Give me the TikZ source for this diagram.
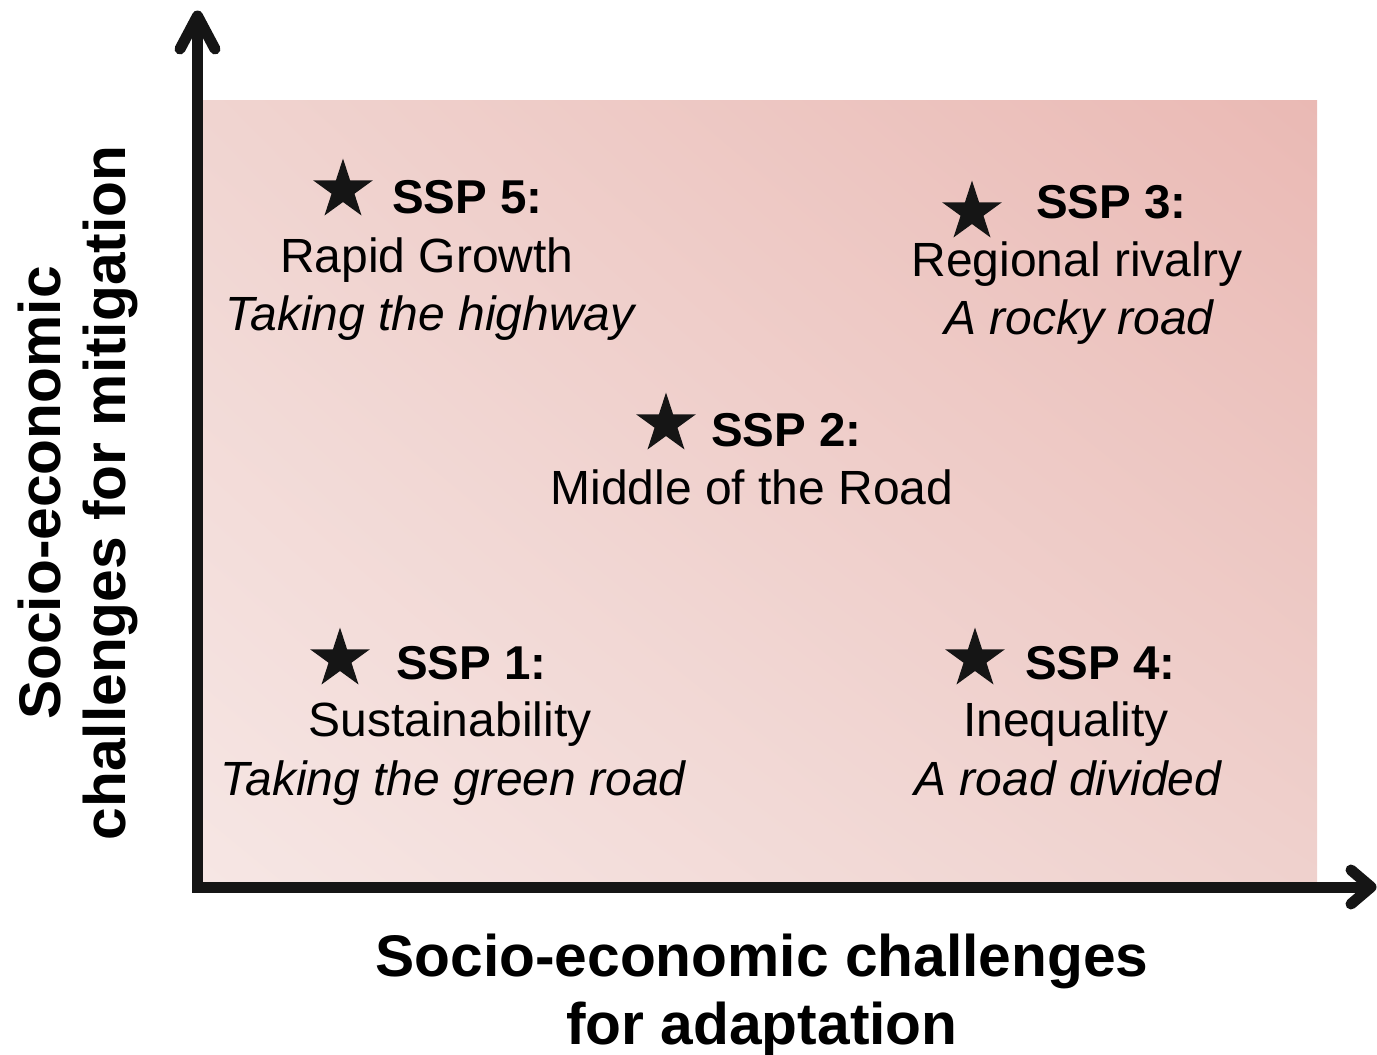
\documentclass[tikz,border=0pt]{standalone}
\usepackage{fontspec}
\setmainfont{Liberation Sans}
\usetikzlibrary{shapes.geometric,shadings}
\definecolor{axisc}{HTML}{151515}
\definecolor{bgLL}{HTML}{F6E6E4}
\definecolor{bgUR}{HTML}{EAB9B4}
\definecolor{bgUL}{HTML}{F0D4D0}
\definecolor{bgLR}{HTML}{EFD1CD}
\begin{document}
\begin{tikzpicture}[x=1pt,y=1pt,
  sspstar/.style={star, star points=5, star point ratio=2.618, fill=axisc, draw=none, inner sep=0pt, minimum size=63pt},
  txt/.style={font=\fontsize{48}{56}\selectfont, inner sep=0pt, text=black},
  head/.style={txt, font=\fontsize{47.5}{56}\selectfont\bfseries, anchor=base west},
  sub/.style={txt, anchor=base},
  subit/.style={txt, font=\fontsize{48}{56}\selectfont\itshape, anchor=base},
  axlbl/.style={font=\fontsize{58.7}{68}\selectfont\bfseries, inner sep=0pt, text=black, anchor=base},
  axisline/.style={draw=axisc, line width=11pt, line cap=butt},
  chev/.style={draw=axisc, line width=11pt, line cap=round, line join=round}]
\useasboundingbox (0,0) rectangle (1377,-1055);
% background
\shade[lower left=bgLL, upper right=bgUR, upper left=bgUL, lower right=bgLR] (203,-100) rectangle (1317,-882);
% axes
\coordinate (ybot) at (197.5,-892);
\coordinate (ytip) at (197.5,-16);
\coordinate (xleft) at (192,-887);
\coordinate (xtip) at (1371,-887);
\coordinate (yarmL) at (180,-49);
\coordinate (yarmR) at (215,-49);
\coordinate (xarmU) at (1351,-870);
\coordinate (xarmD) at (1351,-904);
\draw[axisline] (ybot) -- (ytip);
\draw[axisline] (xleft) -- (xtip);
\draw[chev] (yarmL) -- (ytip) -- (yarmR);
\draw[chev] (xarmU) -- (xtip) -- (xarmD);
% SSP 5
\node[sspstar] (s5) at (343,-190) {};
\node[head] (h5) at (392,-213) {SSP 5:};
\node[sub] (n5) at (427,-272) {Rapid Growth};
\node[subit] (i5) at (430,-330) {Taking the highway};
% SSP 3
\node[sspstar] (s3) at (972,-212) {};
\node[head] (h3) at (1036,-218) {SSP 3:};
\node[sub] (n3) at (1077,-276) {Regional rivalry};
\node[subit] (i3) at (1079,-334) {A rocky road};
% SSP 2
\node[sspstar] (s2) at (666,-424) {};
\node[head] (h2) at (711,-446) {SSP 2:};
\node[sub] (n2) at (752,-504) {Middle of the Road};
% SSP 1
\node[sspstar] (s1) at (340,-659) {};
\node[head] (h1) at (396,-679) {SSP 1:};
\node[sub] (n1) at (450,-736) {Sustainability};
\node[subit] (i1) at (453,-795) {Taking the green road};
% SSP 4
\node[sspstar] (s4) at (975,-659) {};
\node[head] (h4) at (1025,-679) {SSP 4:};
\node[sub] (n4) at (1066,-736) {Inequality};
\node[subit] (i4) at (1068,-795) {A road divided};
% axis labels
\node[axlbl] (xl1) at (762,-976) {Socio-economic challenges};
\node[axlbl] (xl2) at (762,-1044) {for adaptation};
\node[axlbl, rotate=90] (yl1) at (60,-493) {Socio-economic};
\node[axlbl, rotate=90] (yl2) at (125,-493) {challenges for mitigation};
\end{tikzpicture}
\end{document}
